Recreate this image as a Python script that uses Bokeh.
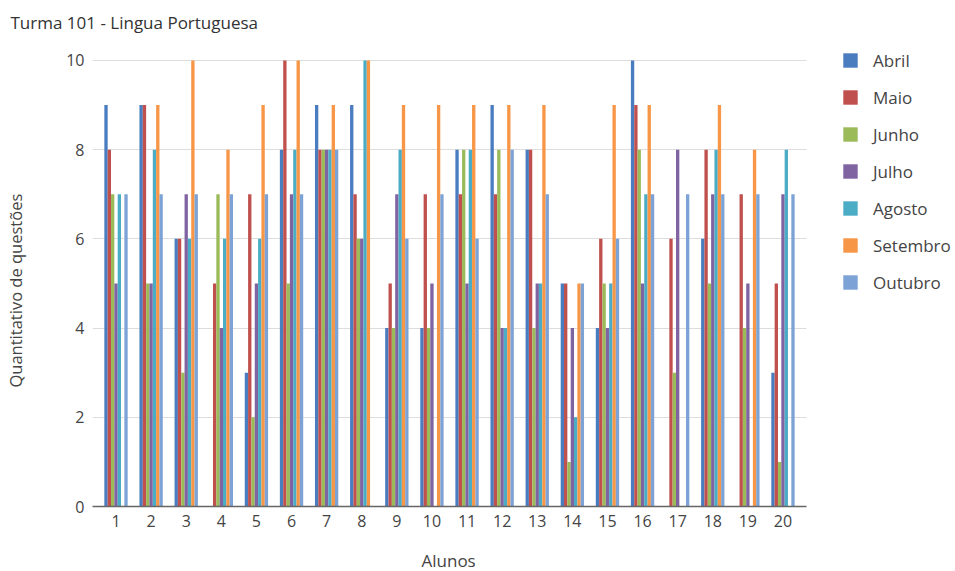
from bokeh.plotting import figure
from bokeh.models import ColumnDataSource, Range1d, Legend, LegendItem, FixedTicker, Title
from bokeh.transform import dodge
from bokeh.embed import file_html
from bokeh.resources import INLINE

alunos = [str(i) for i in range(1, 21)]
meses = ["Abril", "Maio", "Junho", "Julho", "Agosto", "Setembro", "Outubro"]
abril = [9, 9, 6, 0, 3, 8, 9, 9, 4, 4, 8, 9, 8, 5, 4, 10, 0, 6, 0, 3]
maio = [8, 9, 6, 5, 7, 10, 8, 7, 5, 7, 7, 7, 8, 5, 6, 9, 6, 8, 7, 5]
junho = [7, 5, 3, 7, 2, 5, 8, 6, 4, 4, 8, 8, 4, 1, 5, 8, 3, 5, 4, 1]
julho = [5, 5, 7, 4, 5, 7, 8, 6, 7, 5, 5, 4, 5, 4, 4, 5, 8, 7, 5, 7]
agosto = [7, 8, 6, 6, 6, 8, 8, 10, 8, 0, 8, 4, 5, 2, 5, 7, 0, 8, 0, 8]
setembro = [0, 9, 10, 8, 9, 10, 9, 10, 9, 9, 9, 9, 9, 5, 9, 9, 0, 9, 8, 0]
outubro = [7, 7, 7, 7, 7, 7, 8, 0, 6, 7, 6, 8, 7, 5, 6, 7, 7, 7, 7, 7]
y_ticks = [0, 2, 4, 6, 8, 10]

cores = ["#4A7CC0", "#C0504D", "#9BBB59", "#8064A2", "#4BACC6", "#F79646", "#7DA3D6"]
series = [abril, maio, junho, julho, agosto, setembro, outubro]

pos = [i + 1 for i in range(len(alunos))]
data = {"pos": pos}
for m, s in zip(meses, series):
    data[m] = s
source = ColumnDataSource(data)

FONT = "Open Sans"
TXT = "#444444"

# frame: x from 92px to 955px, y from 40px to 506px
pad = 0.33
x_start = pad
x_end = pad + 863 / (714 / (len(alunos) + 1 - 2 * pad))
y_end = 10 + 18 / 44.8

p = figure(
    x_range=Range1d(x_start, x_end),
    y_range=Range1d(0, y_end),
    width=955, height=571,
    output_backend="svg", toolbar_location=None,
    min_border_left=92, min_border_right=0, min_border_top=40, min_border_bottom=65,
)
p.outline_line_color = None

bw = 0.095
items = []
for i, (m, c) in enumerate(zip(meses, cores)):
    r = p.vbar(x=dodge("pos", (i - 3) * bw), top=m, width=bw,
               source=source, fill_color=c, line_color=None)
    items.append(LegendItem(label=m, renderers=[r]))

legend = Legend(items=items, location=(749, 212))
legend.border_line_color = None
legend.background_fill_alpha = 0
legend.label_text_font = FONT
legend.label_text_font_size = "17px"
legend.label_text_color = TXT
legend.glyph_width = 18
legend.glyph_height = 18
legend.label_height = 24
legend.spacing = 13
legend.label_standoff = 14
legend.padding = 0
legend.margin = 0
p.add_layout(legend, "center")

p.title.text = "Turma 101 - Lingua Portuguesa"
p.title.align = "left"
p.title.offset = -82
p.title.standoff = 17
p.title.text_font = FONT
p.title.text_font_style = "normal"
p.title.text_font_size = "17px"
p.title.text_color = "#333333"

# y label (left), placed with a spacer
p.add_layout(Title(text=" ", text_font_size="2px", standoff=33), "left")
p.add_layout(Title(text="Quantitativo de questões", align="left", offset=119, standoff=0,
                   text_font=FONT, text_font_style="normal", text_font_size="16.5px",
                   text_color=TXT), "left")

# x label (below), placed with a spacer
p.add_layout(Title(text=" ", text_font_size="2px", standoff=13), "below")
p.add_layout(Title(text="Alunos", align="left", offset=329, standoff=0,
                   text_font=FONT, text_font_style="normal", text_font_size="17px",
                   text_color=TXT), "below")

p.yaxis.ticker = FixedTicker(ticks=y_ticks)
p.yaxis.bounds = (0, 10)
p.yaxis.axis_line_color = None
p.yaxis.major_tick_line_color = None
p.yaxis.minor_tick_line_color = None
p.yaxis.major_tick_out = 0
p.yaxis.major_tick_in = 0
p.yaxis.major_label_standoff = 8

p.xaxis.ticker = FixedTicker(ticks=pos)
p.xaxis.major_label_overrides = {k: v for k, v in zip(pos, alunos)}
p.xaxis.bounds = (x_start, len(alunos) + 1 - pad)
p.xaxis.axis_line_color = "#666666"
p.xaxis.axis_line_width = 1.5
p.xaxis.major_tick_line_color = None
p.xaxis.minor_tick_line_color = None
p.xaxis.major_tick_out = 0
p.xaxis.major_tick_in = 0
p.xaxis.major_label_standoff = 8

for ax in (p.xaxis, p.yaxis):
    ax.major_label_text_font = FONT
    ax.major_label_text_font_size = "16px"
    ax.major_label_text_color = TXT

p.xgrid.grid_line_color = None
p.ygrid.ticker = FixedTicker(ticks=y_ticks)
p.ygrid.cross_bounds = (x_start, len(alunos) + 1 - pad)
p.ygrid.grid_line_color = "#DDDDDD"
p.ygrid.grid_line_width = 1

open("out.html", "w").write(file_html(p, INLINE))
